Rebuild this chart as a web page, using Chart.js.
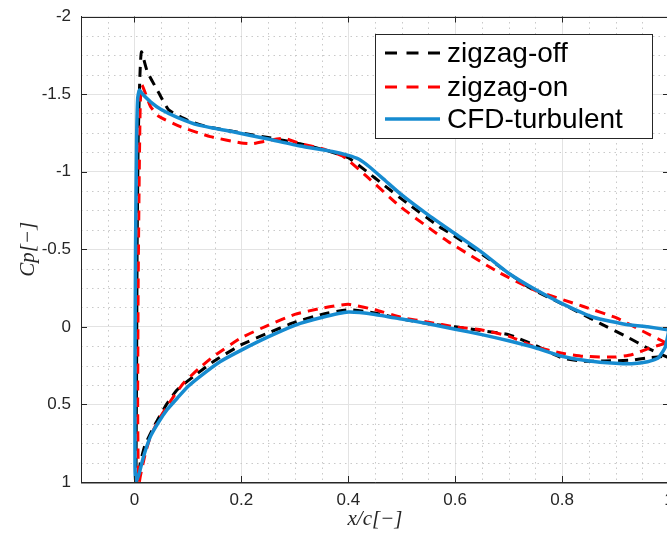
<!DOCTYPE html>
<html>
<head>
<meta charset="utf-8">
<script src="https://cdn.jsdelivr.net/npm/chart.js@4/dist/chart.umd.min.js"></script>
<style>
  html, body { margin: 0; padding: 0; background: #fff; overflow: hidden; }
  #wrap { width: 670px; height: 534px; }
</style>
</head>
<body>
<div id="wrap"><canvas id="cpChart"></canvas></div>
<script>
// tick labels
const xTicks = [0, 0.2, 0.4, 0.6, 0.8, 1];
const yTicks = [-2, -1.5, -1, -0.5, 0, 0.5, 1];

// zigzag-off : upper surface TE -> LE, then lower surface LE -> TE
const offX = [1.0, 0.96, 0.92, 0.87, 0.81, 0.74, 0.665, 0.628, 0.59, 0.57, 0.51, 0.466, 0.435, 0.40, 0.366, 0.31, 0.25, 0.2, 0.136, 0.1, 0.064, 0.046, 0.024, 0.013, 0.010, 0.007, 0.005, 0.004, 0.003, 0.004,
              0.008, 0.011, 0.02, 0.04, 0.06, 0.08, 0.111, 0.148, 0.2, 0.25, 0.3, 0.35, 0.4, 0.45, 0.5, 0.55, 0.6, 0.65, 0.7, 0.75, 0.8, 0.84, 0.88, 0.93, 0.96, 0.99, 1.0];
const offCp = [0.2, 0.137, 0.062, -0.024, -0.131, -0.25, -0.432, -0.518, -0.604, -0.646, -0.797, -0.915, -1.0, -1.09, -1.13, -1.18, -1.22, -1.25, -1.29, -1.33, -1.398, -1.505, -1.645, -1.773, -1.6, -1.2, -0.5, 0.3, 0.9, 1.0,
               0.95, 0.875, 0.76, 0.62, 0.5, 0.405, 0.319, 0.223, 0.115, 0.04, -0.03, -0.08, -0.11, -0.09, -0.05, -0.02, 0.0, 0.025, 0.05, 0.12, 0.2, 0.222, 0.22, 0.215, 0.2, 0.19, 0.2];

// zigzag-on
const onX = [0.995, 0.952, 0.902, 0.84, 0.747, 0.684, 0.591, 0.55, 0.497, 0.435, 0.391, 0.35, 0.31, 0.28, 0.25, 0.22, 0.2, 0.142, 0.086, 0.046, 0.03, 0.014, 0.011, 0.009, 0.007, 0.006, 0.007, 0.009,
             0.011, 0.02, 0.03, 0.045, 0.061, 0.075, 0.092, 0.12, 0.148, 0.2, 0.25, 0.3, 0.35, 0.4, 0.45, 0.5, 0.55, 0.6, 0.65, 0.7, 0.747, 0.8, 0.84, 0.9, 0.93, 0.964, 0.995];
const onCp = [0.104, 0.03, -0.057, -0.131, -0.239, -0.346, -0.54, -0.64, -0.775, -0.968, -1.097, -1.15, -1.18, -1.215, -1.2, -1.18, -1.185, -1.226, -1.29, -1.355, -1.42, -1.559, -1.45, -1.0, -0.3, 0.5, 0.9, 1.0,
              0.963, 0.82, 0.706, 0.6, 0.513, 0.44, 0.362, 0.27, 0.19, 0.07, -0.01, -0.08, -0.12, -0.145, -0.11, -0.06, -0.03, 0.0, 0.02, 0.06, 0.126, 0.17, 0.19, 0.195, 0.18, 0.137, 0.104];

// CFD-turbulent
const cfdX = [1.0, 0.96, 0.92, 0.86, 0.8, 0.75, 0.7, 0.65, 0.6, 0.55, 0.5, 0.47, 0.44, 0.42, 0.4, 0.37, 0.31, 0.25, 0.18, 0.12, 0.08, 0.05, 0.03, 0.015, 0.009, 0.006, 0.004, 0.002, 0.001, 0.001, 0.003,
              0.01, 0.017, 0.03, 0.045, 0.061, 0.08, 0.1, 0.123, 0.16, 0.2, 0.25, 0.3, 0.35, 0.4, 0.45, 0.5, 0.55, 0.6, 0.65, 0.7, 0.75, 0.8, 0.85, 0.9, 0.93, 0.96, 0.98, 0.993, 1.0];
const cfdCp = [0.02, 0.0, -0.015, -0.06, -0.15, -0.24, -0.345, -0.48, -0.6, -0.72, -0.85, -0.94, -1.03, -1.08, -1.105, -1.13, -1.165, -1.21, -1.26, -1.3, -1.35, -1.4, -1.45, -1.5, -1.525, -1.47, -1.2, -0.5, 0.3, 0.9, 1.0,
               0.93, 0.835, 0.706, 0.615, 0.534, 0.46, 0.385, 0.319, 0.225, 0.15, 0.065, -0.01, -0.06, -0.095, -0.08, -0.05, -0.02, 0.015, 0.05, 0.09, 0.135, 0.19, 0.22, 0.235, 0.238, 0.225, 0.2, 0.13, 0.02];

function pts(xs, ys) {
    let out = [];
    for (let i = 0; i < xs.length; i++) {
        out.push({ x: xs[i], y: ys[i] });
    }
    return out;
}

const axisColor = '#262626';
const tickFont = { family: 'Liberation Sans', size: 17 };

// minor dotted grid, inward ticks and the box around the axes
const frame = {
    id: 'frame',
    beforeDatasetsDraw(chart) {
        const ctx = chart.ctx, a = chart.chartArea;
        const xs = chart.scales.x, ys = chart.scales.y;
        ctx.save();
        ctx.strokeStyle = '#c9c9c9';
        ctx.lineWidth = 1;
        ctx.setLineDash([1.5, 4]);
        for (let v = -0.05; v < 1.0; v += 0.05) {
            if (Math.abs(v / 0.2 - Math.round(v / 0.2)) < 1e-6) continue;
            const px = Math.round(xs.getPixelForValue(v)) + 0.5;
            ctx.beginPath(); ctx.moveTo(px, a.top); ctx.lineTo(px, a.bottom); ctx.stroke();
        }
        for (let v = -1.875; v < 1.0; v += 0.125) {
            if (Math.abs(v / 0.5 - Math.round(v / 0.5)) < 1e-6) continue;
            const py = Math.round(ys.getPixelForValue(v)) + 0.5;
            ctx.beginPath(); ctx.moveTo(a.left, py); ctx.lineTo(a.right, py); ctx.stroke();
        }
        ctx.restore();
    },
    afterDatasetsDraw(chart) {
        const ctx = chart.ctx, a = chart.chartArea;
        const xs = chart.scales.x, ys = chart.scales.y;
        ctx.save();
        ctx.strokeStyle = axisColor;
        ctx.lineWidth = 1;
        ctx.beginPath();
        for (const v of xTicks) {
            const px = Math.round(xs.getPixelForValue(v)) + 0.5;
            ctx.moveTo(px, a.bottom); ctx.lineTo(px, a.bottom - 6);
            ctx.moveTo(px, a.top); ctx.lineTo(px, a.top + 6);
        }
        for (const v of yTicks) {
            const py = Math.round(ys.getPixelForValue(v)) + 0.5;
            ctx.moveTo(a.left, py); ctx.lineTo(a.left + 6, py);
            ctx.moveTo(a.right, py); ctx.lineTo(a.right - 6, py);
        }
        ctx.stroke();
        ctx.strokeRect(Math.round(a.left) + 0.5, Math.round(a.top) + 0.5, a.right - a.left, a.bottom - a.top);
        ctx.restore();
    }
};

// legend box inside the axes, like the original
const boxLegend = {
    id: 'boxLegend',
    afterDraw(chart) {
        const ctx = chart.ctx;
        const x0 = 375.5, y0 = 34.5, w = 277, h = 104;
        ctx.save();
        ctx.fillStyle = '#fff';
        ctx.fillRect(x0, y0, w, h);
        ctx.strokeStyle = axisColor;
        ctx.lineWidth = 1;
        ctx.strokeRect(x0, y0, w, h);
        const rows = [53, 87, 119];
        const sets = chart.data.datasets;
        for (let i = 0; i < sets.length; i++) {
            const ds = sets[i];
            ctx.strokeStyle = ds.borderColor;
            ctx.lineWidth = ds.borderWidth;
            ctx.setLineDash(ds.borderDash.length ? [12, 9.5] : []);
            ctx.beginPath();
            ctx.moveTo(385, rows[i]);
            ctx.lineTo(440, rows[i]);
            ctx.stroke();
            ctx.setLineDash([]);
            ctx.fillStyle = '#000';
            ctx.font = '28px "Liberation Sans"';
            ctx.textBaseline = 'middle';
            ctx.fillText(ds.label, 447, rows[i] + 1);
        }
        ctx.restore();
    }
};

const dataSet = {
    datasets: [{
        label: 'zigzag-off',
        data: pts(offX, offCp),
        borderColor: '#000000',
        borderWidth: 3,
        borderDash: [10, 7],
        order: 2
    }, {
        label: 'zigzag-on',
        data: pts(onX, onCp),
        borderColor: '#ff0000',
        borderWidth: 3,
        borderDash: [10, 7],
        order: 1
    }, {
        label: 'CFD-turbulent',
        data: pts(cfdX, cfdCp),
        borderColor: '#168bd0',
        borderWidth: 3.5,
        borderDash: [],
        order: 0
    }]
};

const configLine = {
    type: 'line',
    data: dataSet,
    options: {
        responsive: true,
        maintainAspectRatio: false,
        animation: false,
        layout: { padding: { top: 16.5, right: 1, left: 0, bottom: 0 } },
        elements: {
            point: { radius: 0 },
            line: { tension: 0.15, fill: false, borderCapStyle: 'butt' }
        },
        plugins: {
            legend: { display: false },
            tooltip: { enabled: false }
        },
        scales: {
            x: {
                type: 'linear',
                min: -0.1,
                max: 1,
                afterBuildTicks: (s) => { s.ticks = xTicks.map(v => ({ value: v })); },
                afterFit: (s) => { s.height = 52; s.paddingLeft = 0; s.paddingRight = 0; },
                ticks: {
                    color: axisColor,
                    font: tickFont,
                    padding: 8,
                    maxRotation: 0,
                    autoSkip: false,
                    callback: (v) => String(v)
                },
                grid: { color: '#e3e3e3', drawTicks: false },
                border: { color: axisColor, width: 1 },
                title: {
                    display: true,
                    text: 'x/c[−]',
                    color: axisColor,
                    font: { family: 'Liberation Serif', size: 21, style: 'italic' },
                    padding: { top: 0, bottom: 2 }
                }
            },
            y: {
                type: 'linear',
                reverse: true,
                min: -2,
                max: 1,
                afterBuildTicks: (s) => { s.ticks = yTicks.map(v => ({ value: v })); },
                afterFit: (s) => { s.width = 81; s.paddingTop = 0; s.paddingBottom = 0; },
                ticks: {
                    color: axisColor,
                    font: tickFont,
                    padding: 10,
                    autoSkip: false,
                    callback: (v) => String(v)
                },
                grid: { color: '#e3e3e3', drawTicks: false },
                border: { color: axisColor, width: 1 },
                title: {
                    display: true,
                    text: 'Cp[−]',
                    color: axisColor,
                    font: { family: 'Liberation Serif', size: 21, style: 'italic' },
                    padding: { top: 16, bottom: 0 }
                }
            }
        }
    },
    plugins: [frame, boxLegend]
};

let canvas = document.getElementById('cpChart');

const cpChart = new Chart(canvas, configLine);
</script>
</body>
</html>
